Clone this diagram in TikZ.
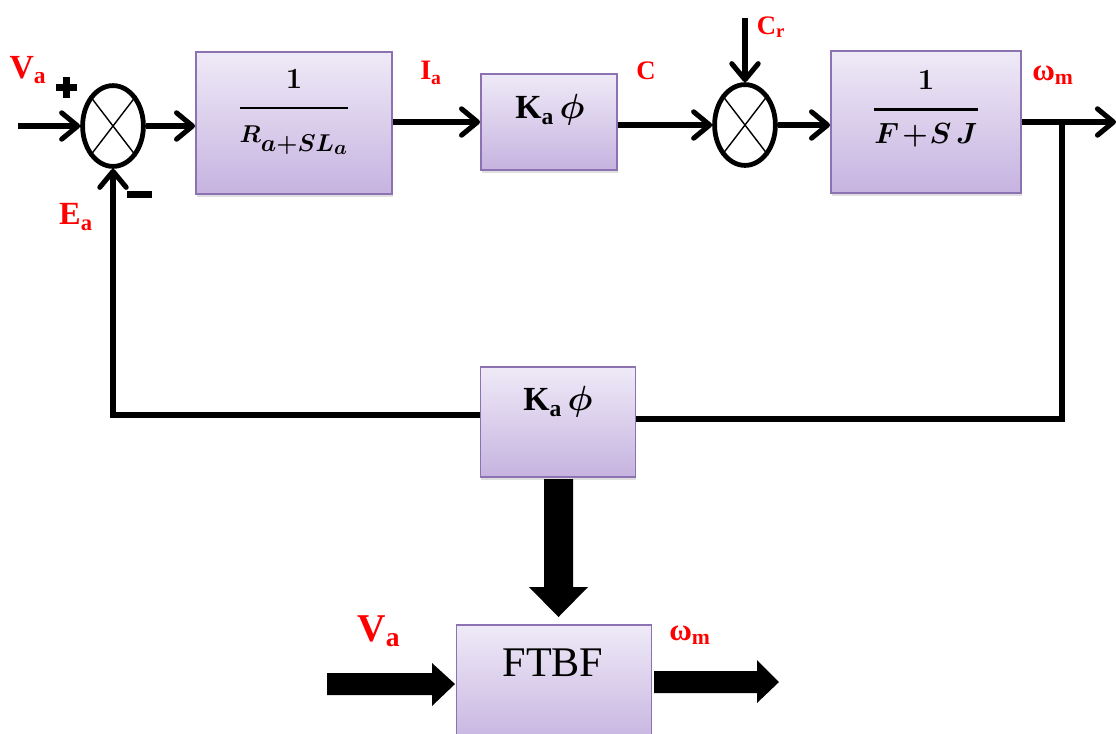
\documentclass[tikz,border=0pt]{standalone}
\usepackage{amsmath}
\usepackage{fontspec}
\setmainfont{Liberation Serif}
\usepackage{bm}
\usetikzlibrary{arrows.meta,shapes.geometric,shadows}
\definecolor{blktop}{HTML}{EFEAF7}
\definecolor{blkbot}{HTML}{C6B3E0}
\definecolor{blkedge}{HTML}{8C72B0}
\tikzset{
  blk/.style={draw=blkedge,line width=1.3pt,top color=blktop,bottom color=blkbot,
    drop shadow={opacity=0.25,shadow xshift=0.6pt,shadow yshift=-1.8pt}},
  sumj/.style={ellipse,draw,line width=3.4pt,fill=white,inner sep=0pt,
    minimum width=1.52cm,minimum height=2.02cm},
  wire/.style={line width=3.6pt},
  tip/.style={-{Straight Barb[length=4mm,width=6.6mm,round]}},
  sig/.style={text=red,inner sep=0pt},
}
\begin{document}
\begin{tikzpicture}[x=0.025cm,y=-0.025cm]
\useasboundingbox (0,0) rectangle (1116,733);
\clip (0,0) rectangle (1116,733);
% blocks
\node[blk,minimum width=4.9cm,minimum height=3.55cm] (b1) at (294,123) {};
\node[blk,minimum width=3.4cm,minimum height=2.4cm] (b2) at (549,122) {};
\node[blk,minimum width=4.75cm,minimum height=3.55cm] (b3) at (926,122) {};
\node[blk,minimum width=3.875cm,minimum height=2.75cm] (b4) at (558,422) {};
\node[blk,minimum width=4.875cm,minimum height=3.0cm] (b5) at (554,685) {};
\node[font=\fontsize{19}{23}\selectfont,inner sep=0pt] (t1) at (294,112)
  {$\genfrac{}{}{1.7pt}{0}{\text{\fontsize{22}{26}\selectfont$\bm{1}$}\rule[-8pt]{0pt}{0pt}}{\rule{0pt}{19pt}\bm{R_{\textstyle a{+}SL_a}}}$};
\node[font=\fontsize{24}{28}\selectfont,inner sep=0pt] (t2) at (550,110)
  {\textbf{K\textsubscript{a}}\,$\bm{\phi}$};
\node[font=\fontsize{20}{24}\selectfont,inner sep=0pt] (t3) at (926,109)
  {$\genfrac{}{}{1.7pt}{0}{\text{\fontsize{22}{26}\selectfont$\bm{1}$}\rule[-8pt]{0pt}{0pt}}{\rule{0pt}{18pt}\bm{F\mkern2mu{+}\mkern1mu S\,J}}$};
\node[font=\fontsize{24}{28}\selectfont,inner sep=0pt] (t4) at (558,402)
  {\textbf{K\textsubscript{a}}\,$\bm{\phi}$};
\node[font=\fontsize{30}{34}\selectfont,inner sep=0pt] (t5) at (553,663) {FTBF};
% summing junctions
\node[sumj] (s1) at (113,126) {};
\node[sumj] (s2) at (745,125) {};
\draw[line width=1pt] (s1.north east) -- (s1.south west) (s1.north west) -- (s1.south east);
\draw[line width=1pt] (s2.north east) -- (s2.south west) (s2.north west) -- (s2.south east);
\fill (56,84) rectangle (77,91);
\fill (63,77) rectangle (70,98);
\fill (127,191) rectangle (152,198);
% wires
\coordinate (vin) at (18,126);
\coordinate (cr) at (745,18);
\coordinate (split) at (1062,122);
\coordinate (wout) at (1116,122);
\coordinate (fbr) at (1062,419);
\coordinate (fbl) at (113,415);
\draw[wire,tip] (vin) -- (s1);
\draw[wire,tip] (s1) -- (b1.west |- s1);
\draw[wire,tip] (b1.east |- b2) -- (b2);
\draw[wire,tip] (b2.east |- s2) -- (s2);
\draw[wire,tip] (cr) -- (s2);
\draw[wire,tip] (s2) -- (b3.west |- s2);
\draw[wire,tip] (b3) -- (wout);
\draw[wire] (split) -- (fbr) -- (b4.east |- fbr);
\draw[wire,tip] (b4.west |- fbl) -- (fbl) -- (s1);
% big arrows
\fill (544,479) -- (573,479) -- (573,587) -- (588,587) -- (558.5,617) -- (529,587) -- (544,587) -- cycle;
\fill (327,673) -- (432,673) -- (432,663) -- (455,684) -- (432,706) -- (432,695) -- (327,695) -- cycle;
\fill (654,671) -- (757,671) -- (757,660) -- (779,682) -- (757,703) -- (757,693) -- (654,693) -- cycle;
% labels
\node[sig,font=\fontsize{24}{28}\selectfont\bfseries] (lva) at (28,70) {V\textsubscript{a}};
\node[sig,font=\fontsize{23}{27}\selectfont\bfseries] (lea) at (76,217) {E\textsubscript{a}};
\node[sig,font=\fontsize{20}{24}\selectfont\bfseries] (lia) at (431,73) {I\textsubscript{a}};
\node[sig,font=\fontsize{19}{22}\selectfont\bfseries] (lc) at (646,71) {C};
\node[sig,font=\fontsize{19}{22}\selectfont\bfseries] (lcr) at (771,27) {C\textsubscript{r}};
\node[sig,font=\fontsize{22}{26}\selectfont\bfseries] (lw) at (1053,75) {ω\textsubscript{m}};
\node[sig,font=\fontsize{28}{32}\selectfont\bfseries] (lva2) at (379,631) {V\textsubscript{a}};
\node[sig,font=\fontsize{22}{26}\selectfont\bfseries] (lw2) at (690,635) {ω\textsubscript{m}};
\end{tikzpicture}
\end{document}
